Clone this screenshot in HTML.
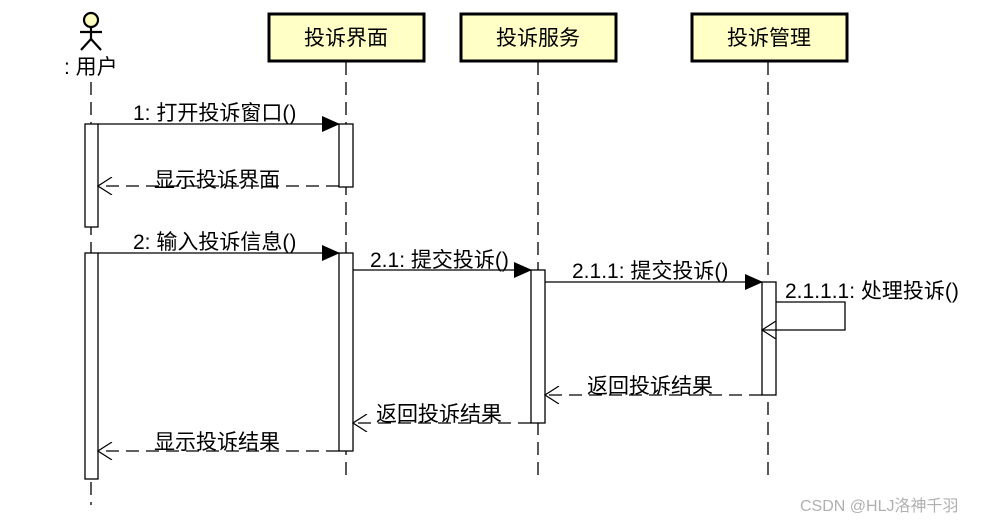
<!DOCTYPE html>
<html><head><meta charset="utf-8"><style>
body{margin:0;background:#fff}
svg text{font-family:"Liberation Sans","Noto Sans CJK SC",sans-serif;font-size:21px;fill:#000}
</style></head><body>
<svg width="981" height="522" viewBox="0 0 981 522" xmlns="http://www.w3.org/2000/svg">
<defs>
<marker id="f" markerWidth="18" markerHeight="16" refX="17" refY="8" orient="auto" markerUnits="userSpaceOnUse"><path d="M0,0 L18,8 L0,16 Z" fill="#000"/></marker>
<marker id="o" markerWidth="16" markerHeight="18" refX="15" refY="9" orient="auto" markerUnits="userSpaceOnUse"><path d="M1,0 L15,9 L1,18" fill="none" stroke="#000" stroke-width="1.2"/></marker>
</defs>
<g stroke="#000" stroke-width="1.3" stroke-dasharray="13,7" fill="none">
<line x1="91" y1="82" x2="91" y2="505"/>
<line x1="346" y1="62" x2="346" y2="480"/>
<line x1="538" y1="62" x2="538" y2="480"/>
<line x1="768" y1="62" x2="768" y2="480"/>
</g>
<g stroke="#000" stroke-width="2.2" fill="none">
<circle cx="91" cy="20" r="7" fill="#ffffc0"/>
<line x1="91" y1="27" x2="91" y2="39"/>
<line x1="80" y1="32" x2="102" y2="32"/>
<line x1="91" y1="39" x2="81" y2="50"/>
<line x1="91" y1="39" x2="101" y2="50"/>
</g>
<text x="64" y="74">: 用户</text>
<g stroke="#000" stroke-width="3" fill="#ffffc6">
<rect x="269" y="14" width="155" height="47"/>
<rect x="461" y="14" width="155" height="47"/>
<rect x="692" y="14" width="155" height="47"/>
</g>
<text x="346" y="45" text-anchor="middle">投诉界面</text>
<text x="538" y="45" text-anchor="middle">投诉服务</text>
<text x="769" y="45" text-anchor="middle">投诉管理</text>
<g stroke="#000" stroke-width="1.3" fill="#fff">
<rect x="85" y="124" width="13" height="103"/>
<rect x="85" y="253" width="13" height="226"/>
<rect x="339" y="124" width="14" height="63"/>
<rect x="339" y="253" width="14" height="198"/>
<rect x="531" y="270" width="14" height="153"/>
<rect x="762" y="282" width="14" height="113"/>
</g>
<g stroke="#000" stroke-width="1.3" fill="none">
<line x1="98" y1="124" x2="339" y2="124" marker-end="url(#f)"/>
<line x1="98" y1="253" x2="339" y2="253" marker-end="url(#f)"/>
<line x1="353" y1="270" x2="531" y2="270" marker-end="url(#f)"/>
<line x1="545" y1="282" x2="762" y2="282" marker-end="url(#f)"/>
<polyline points="776,302 845,302 845,330 762,330" marker-end="url(#o)"/>
<g stroke-dasharray="13,7">
<line x1="339" y1="186" x2="98" y2="186" marker-end="url(#o)"/>
<line x1="762" y1="395" x2="545" y2="395" marker-end="url(#o)"/>
<line x1="531" y1="423" x2="353" y2="423" marker-end="url(#o)"/>
<line x1="339" y1="451" x2="98" y2="451" marker-end="url(#o)"/>
</g>
</g>
<text x="133" y="120">1: 打开投诉窗口()</text>
<text x="154" y="187">显示投诉界面</text>
<text x="133" y="249">2: 输入投诉信息()</text>
<text x="370" y="267">2.1: 提交投诉()</text>
<text x="572" y="278">2.1.1: 提交投诉()</text>
<text x="785" y="298">2.1.1.1: 处理投诉()</text>
<text x="587" y="393">返回投诉结果</text>
<text x="376" y="421">返回投诉结果</text>
<text x="154" y="449">显示投诉结果</text>
<text x="800" y="511" style="font-size:16px;fill:#b0b0b0">CSDN @HLJ洛神千羽</text>
</svg>
</body></html>
